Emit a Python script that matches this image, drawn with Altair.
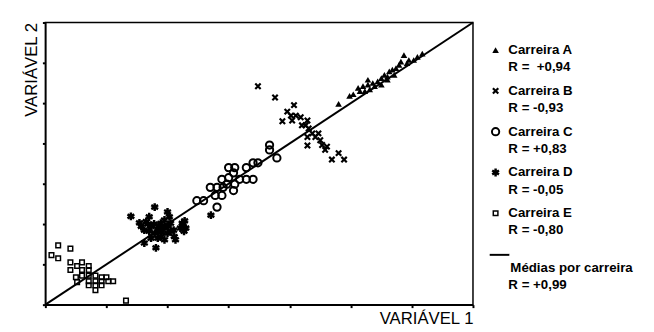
import altair as alt
import pandas as pd

# ---------------- data ----------------
series_names = ["Carreira A", "Carreira B", "Carreira C", "Carreira D", "Carreira E"]
r_labels = ["R = \u00a0+0,94", "R = -0,93", "R = +0,83", "R = -0,05", "R = -0,80"]
mean_label = "Médias por carreira"
mean_r = "R = +0,99"

a_x = [4.80, 4.98, 5.04, 5.12, 5.20, 5.28, 5.23, 5.31, 5.39, 5.44, 5.50, 5.55, 5.60, 5.63, 5.68,
       5.74, 5.79, 5.82, 5.87, 5.95, 6.03, 6.09, 6.17, 5.60, 5.50, 5.36, 5.15, 5.28, 5.71, 5.92]
a_y = [4.98, 5.18, 5.22, 5.38, 5.42, 5.46, 5.30, 5.34, 5.42, 5.54, 5.62, 5.70, 5.66, 5.79, 5.83,
       5.87, 5.95, 6.03, 6.19, 6.07, 6.07, 6.15, 6.23, 5.58, 5.46, 5.50, 5.30, 5.58, 5.70, 5.99]

b_x = [3.48, 3.76, 4.07, 3.96, 4.02, 3.88, 4.04, 4.18, 4.20, 4.29, 4.31, 4.37, 4.47, 4.29, 4.42,
       4.50, 4.53, 4.61, 4.58, 4.29, 4.69, 4.80, 4.89, 4.26, 4.10]
b_y = [5.42, 5.14, 4.95, 4.79, 4.69, 4.55, 4.57, 4.65, 4.45, 4.57, 4.37, 4.25, 4.25, 4.16, 4.16,
       4.08, 3.96, 3.92, 3.84, 3.95, 3.60, 3.76, 3.60, 4.45, 4.69]

c_x = [2.48, 2.59, 2.70, 2.81, 2.91, 2.78, 2.89, 2.81, 3.00, 3.08, 3.10, 2.89, 3.08, 3.10, 3.18,
       3.29, 3.40, 3.29, 3.40, 3.48, 3.67, 3.67, 3.79, 3.00, 2.97]
c_y = [2.58, 2.58, 2.91, 2.91, 2.91, 2.71, 2.71, 2.42, 3.15, 3.27, 3.40, 3.11, 2.83, 2.99, 3.11,
       3.11, 3.11, 3.40, 3.52, 3.52, 3.96, 3.84, 3.64, 3.40, 2.99]

d_x = [1.40, 1.54, 1.57, 1.65, 1.70, 1.79, 1.73, 1.79, 1.84, 1.89, 1.95, 2.00, 2.03, 1.97, 2.05,
       2.11, 2.13, 1.89, 1.84, 1.73, 1.62, 1.81, 2.24, 2.30, 2.21, 2.27, 2.00, 1.95, 2.05, 1.70,
       1.62, 2.71, 1.85, 1.90, 1.78, 2.00, 1.92, 2.10, 2.25, 2.28, 1.68]
d_y = [2.19, 2.03, 1.94, 2.06, 2.18, 2.42, 1.94, 1.77, 1.85, 2.02, 2.10, 2.30, 2.18, 1.94, 1.82,
       1.69, 1.61, 1.69, 1.65, 1.65, 1.53, 1.41, 2.02, 1.90, 1.90, 1.82, 1.77, 1.61, 2.02, 1.82,
       1.85, 2.22, 1.95, 1.80, 2.00, 1.95, 1.90, 1.85, 1.98, 2.08, 2.00]

e_x = [0.21, 0.41, 0.10, 0.21, 0.41, 0.52, 0.60, 0.71, 0.41, 0.60, 0.71, 0.50, 0.60, 0.71, 0.82,
       0.92, 1.00, 1.11, 0.71, 0.82, 0.92, 1.03, 0.52, 0.71, 0.82, 0.92, 0.82, 1.32]
e_y = [1.47, 1.39, 1.23, 1.15, 1.05, 0.96, 1.05, 0.96, 0.86, 0.86, 0.86, 0.68, 0.72, 0.72, 0.72,
       0.68, 0.68, 0.58, 0.58, 0.58, 0.58, 0.58, 0.56, 0.48, 0.48, 0.48, 0.36, 0.10]

line_x = [0, 7]
line_y = [0, 7]
tick_values = [0, 1, 2, 3, 4, 5, 6, 7]

# ---------------- styles ----------------
X_PATH = "M-1,-1L1,1M-1,1L1,-1"
AST_PATH = "M0,-1L0,1M-0.87,-0.5L0.87,0.5M-0.87,0.5L0.87,-0.5"
styles = [
    dict(shape="triangle-up", filled=True, size=45, strokeWidth=1),
    dict(shape=X_PATH, filled=False, size=30, strokeWidth=2.2),
    dict(shape="circle", filled=False, size=55, strokeWidth=2),
    dict(shape=AST_PATH, filled=False, size=64, strokeWidth=2.5),
    dict(shape="square", filled=False, size=22, strokeWidth=1.5),
]
xs_all = [a_x, b_x, c_x, d_x, e_x]
ys_all = [a_y, b_y, c_y, d_y, e_y]

FONT = "Liberation Sans"

x_enc = alt.X("x:Q", scale=alt.Scale(domain=[0, 7], nice=False, zero=False),
              axis=alt.Axis(values=tick_values, labels=False, grid=False, tickSize=3, tickWidth=2,
                            tickColor="black", domainColor="black", domainWidth=1.5,
                            title="VARIÁVEL 1", titleAnchor="end", titleFont=FONT, titleFontSize=17,
                            titleFontWeight="normal", titleColor="black", titlePadding=2))
y_enc = alt.Y("y:Q", scale=alt.Scale(domain=[0, 7], nice=False, zero=False),
              axis=alt.Axis(values=tick_values, labels=False, grid=False, tickSize=3, tickWidth=2,
                            tickColor="black", domainColor="black", domainWidth=1.5,
                            title="VARIÁVEL 2", titleAnchor="end", titleFont=FONT, titleFontSize=17,
                            titleFontWeight="normal", titleColor="black", titlePadding=1))

layers = []
line_df = pd.DataFrame({"x": line_x, "y": line_y})
layers.append(alt.Chart(line_df).mark_line(color="black", strokeWidth=2).encode(x=x_enc, y=y_enc))
for name, xs, ys, st in zip(series_names, xs_all, ys_all, styles):
    df = pd.DataFrame({"x": xs, "y": ys, "serie": name})
    layers.append(
        alt.Chart(df).mark_point(color="black", opacity=1, **st).encode(x=x_enc, y=y_enc)
    )

main = alt.layer(*layers).properties(
    width=435, height=287,
    view=alt.ViewBackground(stroke="black", strokeWidth=1.5),
)

# ---------------- legend panel ----------------
lx = alt.X("lx:Q", scale=alt.Scale(domain=[0, 160], nice=False, zero=False), axis=None)
ly = alt.Y("ly:Q", scale=alt.Scale(domain=[-0.675, 6.241], nice=False, zero=False, reverse=True), axis=None)

text_rows = []
for i, (n, r) in enumerate(zip(series_names, r_labels)):
    text_rows.append({"lx": 20, "ly": i, "t": n})
    text_rows.append({"lx": 20, "ly": i + 0.42, "t": r})
n5 = len(series_names)
text_rows.append({"lx": 22, "ly": n5 + 0.34, "t": mean_label})
text_rows.append({"lx": 20, "ly": n5 + 0.76, "t": mean_r})
text_df = pd.DataFrame(text_rows)

leg_layers = [
    alt.Chart(text_df).mark_text(align="left", baseline="middle", font=FONT, fontSize=13.5,
                                 fontWeight="bold", color="black").encode(x=lx, y=ly, text="t:N")
]
for i, st in enumerate(styles):
    sdf = pd.DataFrame({"lx": [7], "ly": [i]})
    leg_layers.append(alt.Chart(sdf).mark_point(color="black", opacity=1, **st).encode(x=lx, y=ly))
ldf = pd.DataFrame({"lx": [1, 21], "ly": [n5 + 0.02, n5 + 0.02]})
leg_layers.append(alt.Chart(ldf).mark_line(color="black", strokeWidth=2).encode(x=lx, y=ly))

legend = alt.layer(*leg_layers).properties(
    width=160, height=287, view=alt.ViewBackground(stroke=None)
)

chart = alt.hconcat(main, legend, spacing=8).properties(
    padding={"left": 14, "top": 7, "right": 0, "bottom": 0}
).configure(background="white")

chart.save("out.html", embed_options={"renderer": "svg", "actions": False})
